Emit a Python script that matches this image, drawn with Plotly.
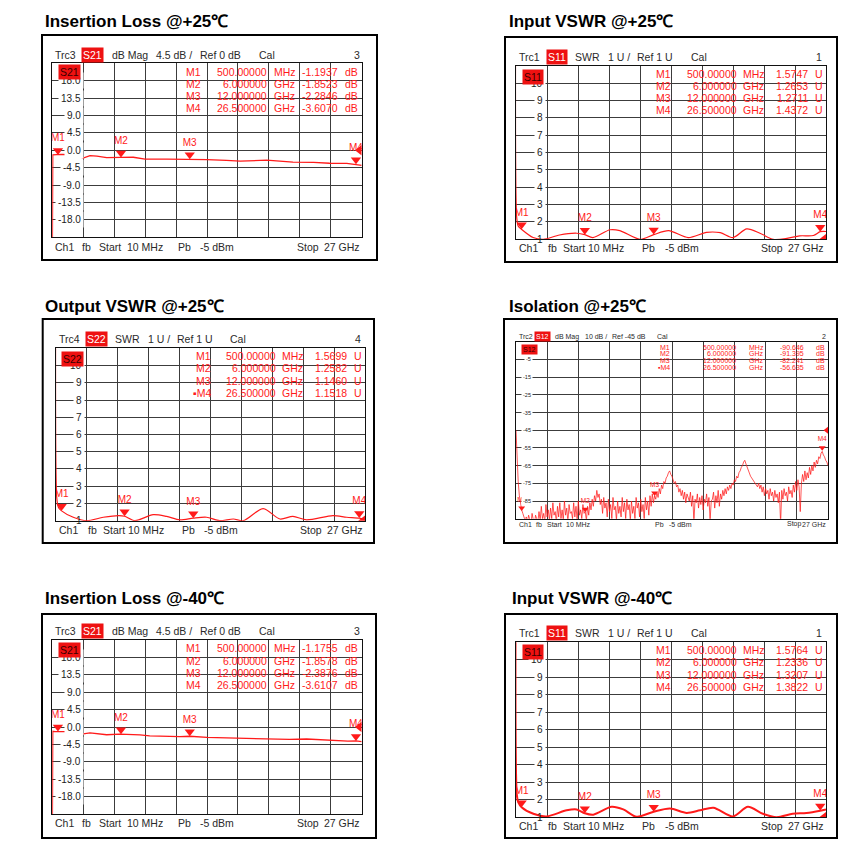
import numpy as np
import plotly.graph_objects as go

W = H = 868
FONT = "Liberation Sans, Arial, Helvetica, sans-serif"
RED = "#ff1a1a"
TXT = "#2a2a2a"
GRID = "#3c3c3c"

F_START, F_STOP, N_DIV = 0.01, 27.0, 10   # GHz sweep, 10 divisions

# ---------------- data (GHz, dB / SWR) ----------------
MK_F = [0.5, 6.0, 12.0, 26.5]

IL25_F = [0.01, 0.05, 0.39, 0.82, 1.84, 2.7, 3.3, 3.9, 4.75, 5.6, 6.0, 7.08, 8.1, 10.0,
          12.0, 13.5, 15.2, 16.4, 18.7, 19.9, 21.0, 22.8, 24.2, 25.7, 26.5, 27.0]
IL25_DB = [-30, -1.2, -1.1, -1.05, -1.15, -2.0, -1.4, -1.5, -1.9, -1.75, -1.85, -1.8, -2.3, -2.3,
           -2.28, -2.4, -2.6, -2.8, -2.55, -2.75, -3.05, -3.1, -3.35, -3.4, -3.6, -3.9]
IL25_MV = [-1.1937, -1.8523, -2.2846, -3.6070]

IL40_F = [0.01, 0.05, 0.24, 1.84, 2.57, 3.3, 4.75, 5.9, 7.66, 8.5, 11.15, 12.0, 13.5, 16.4,
          19.3, 20.7, 22.2, 24.2, 25.8, 26.5, 27.0]
IL40_DB = [-30, -1.1, -1.2, -1.2, -1.85, -1.5, -2.0, -1.85, -2.05, -2.3, -2.5, -2.39, -2.7, -2.9,
           -2.95, -3.2, -3.1, -3.5, -3.65, -3.61, -3.8]
IL40_MV = [-1.1755, -1.8578, -2.3876, -3.6107]

IN25_F = [0.01, 0.08, 0.21, 0.5, 1.5, 2.4, 3.8, 5.3, 6.0, 6.7, 8.2, 9.05, 10.8, 12.0, 13.3,
          15.0, 16.6, 17.8, 18.9, 20.1, 21.25, 22.4, 23.6, 24.7, 25.9, 26.5, 27.0]
IN25_V = [20, 2.2, 1.75, 1.57, 1.1, 1.0, 1.25, 1.35, 1.27, 1.1, 1.55, 1.5, 1.0, 1.27, 1.5,
          1.1, 1.4, 1.38, 1.1, 1.6, 1.35, 1.0, 1.05, 1.2, 1.22, 1.44, 1.45]
IN25_MV = [1.5747, 1.2653, 1.2711, 1.4372]

OUT25_F = [0.01, 0.08, 0.21, 0.5, 1.52, 2.69, 4.14, 5.5, 6.0, 6.9, 8.5, 9.67, 10.83, 12.0,
           13.16, 14.3, 15.5, 16.37, 18.1, 19.57, 20.7, 21.9, 24.2, 25.4, 26.5, 27.0]
OUT25_V = [20, 2.3, 1.8, 1.57, 1.2, 1.0, 1.2, 1.3, 1.26, 1.0, 1.35, 1.25, 1.05, 1.15,
           1.2, 1.0, 1.1, 1.0, 1.7, 1.1, 1.25, 1.05, 1.3, 1.2, 1.15, 1.05]
OUT25_MV = [1.5699, 1.2582, 1.1460, 1.1518]

IN40_F = [0.01, 0.08, 0.21, 0.5, 1.52, 2.68, 4.42, 5.29, 6.0, 6.74, 8.34, 9.35, 10.52, 12.0,
          13.42, 14.87, 16.03, 17.2, 18.9, 20.2, 21.5, 22.7, 24.1, 25.3, 26.5, 27.0]
IN40_V = [20, 2.3, 1.85, 1.58, 1.2, 1.05, 1.4, 1.45, 1.23, 1.15, 1.6, 1.45, 1.03, 1.32,
          1.5, 1.25, 1.4, 1.55, 1.05, 1.6, 1.2, 1.0, 1.2, 1.25, 1.38, 1.45]
IN40_MV = [1.5764, 1.2336, 1.3207, 1.3822]

ISO_DB = [
    -45, -62, -74, -82, -87, -90, -92, -95, -96, -94,
    -97, -93, -96, -98, -92, -96, -99, -93, -95, -97,
    -91, -96, -88, -95, -92, -97, -87, -94, -90, -96,
    -89, -95, -86, -93, -91, -97, -88, -94, -86, -95,
    -90, -96, -85, -93, -89, -97, -87, -92, -91, -95,
    -86, -94, -88, -96, -85, -93, -90, -95, -87, -92,
    -91, -96, -88, -93, -86, -90, -84, -88, -82, -85,
    -79, -83, -81, -87, -84, -92, -83, -89, -86, -94,
    -84, -91, -87, -95, -83, -90, -88, -96, -85, -92,
    -88, -94, -83, -91, -86, -95, -84, -90, -87, -96,
    -85, -92, -88, -95, -83, -89, -86, -94, -84, -91,
    -87, -95, -83, -90, -85, -93, -82, -88, -81, -86,
    -82, -84, -80, -83, -78, -81, -76, -78, -74, -75,
    -72, -71, -69, -68, -70, -71, -73, -75, -74, -77,
    -76, -80, -78, -82, -79, -84, -80, -86, -81, -83,
    -85, -80, -88, -82, -97, -84, -86, -81, -89, -83,
    -87, -82, -90, -84, -86, -81, -88, -83, -96, -85,
    -84, -80, -89, -82, -86, -79, -88, -81, -84, -79,
    -82, -78, -81, -77, -79, -76, -78, -75, -76, -73,
    -74, -71, -72, -69, -68, -66, -65, -63, -62, -64,
    -66, -68, -69, -71, -72, -73, -74, -75, -76, -77,
    -75, -78, -76, -80, -77, -82, -78, -81, -79, -84,
    -78, -82, -80, -85, -79, -83, -81, -86, -80, -98,
    -79, -84, -78, -82, -80, -85, -77, -81, -79, -83,
    -76, -80, -74, -79, -73, -77, -91, -75, -70, -74,
    -68, -73, -69, -72, -66, -70, -65, -68, -63, -66,
    -62, -64, -60, -61, -58, -57, -59, -60, -62, -63,
    -65,
]
ISO_F = [0.01] + [round(0.1 * k, 1) for k in range(1, len(ISO_DB))]
ISO_MV = [-90.646, -91.395, -82.241, -56.635]

IL_YT = [18.0, 13.5, 9.0, 4.5, 0.0, -4.5, -9.0, -13.5, -18.0]
SWR_YT = [10, 9, 8, 7, 6, 5, 4, 3, 2, 1]
ISO_YT = [-5, -15, -25, -35, -45, -55, -65, -75, -85]

# ---------------- per-type styling ----------------
KIND = {
    "il": dict(yr=(-22.5, 22.5), ref=0.0, yt=IL_YT, yl=[f"{v:.1f}" for v in IL_YT],
               ylx=0.1, yfs=10, unit="dB", vfmt="{:.4f}", fs=10.5, mfs=10, ms=9, tagx=0.056,
               hdr=[(0.002, "{trc}", "left"), (0.13, "TAG", "center"), (0.187, "dB Mag", "left"),
                    (0.329, "4.5 dB /", "left"), (0.471, "Ref 0 dB", "left"), (0.662, "Cal", "left"),
                    (1.0, "{num}", "right")],
               ftr=[(0.002, "Ch1", "left"), (0.09, "fb", "left"), (0.144, "Start", "left"),
                    (0.235, "10 MHz", "left"), (0.4, "Pb", "left"), (0.47, "-5 dBm", "left"),
                    (0.785, "Stop", "left"), (1.0, "27 GHz", "right")],
               cols=(0.488, 0.702, 0.709, 0.93, 0.94), rows=[8.4, 20.7, 33.0, 45.0], shape="linear"),
    "swr": dict(yr=(1, 11), ref=1.0, yt=SWR_YT, yl=[str(v) for v in SWR_YT],
                ylx=0.092, yfs=10, unit="U", vfmt="{:.4f}", fs=10.5, mfs=10, ms=9, tagx=0.055,
                hdr=[(0.004, "{trc}", "left"), (0.132, "TAG", "center"), (0.185, "SWR", "left"),
                     (0.29, "1 U /", "left"), (0.384, "Ref 1 U", "left"), (0.558, "Cal", "left"),
                     (0.995, "{num}", "right")],
                ftr=[(0.004, "Ch1", "left"), (0.097, "fb", "left"), (0.145, "Start", "left"),
                     (0.226, "10 MHz", "left"), (0.4, "Pb", "left"), (0.473, "-5 dBm", "left"),
                     (0.784, "Stop", "left"), (1.0, "27 GHz", "right")],
                cols=(0.507, 0.72, 0.726, 0.948, 0.958), rows=[7.8, 20.0, 32.3, 44.4], shape="spline"),
    "iso": dict(yr=(-95, 5), ref=-45.0, yt=ISO_YT, yl=[str(v) for v in ISO_YT],
                ylx=0.05, yfs=5.5, unit="dB", vfmt="{:.3f}", fs=7, mfs=6.5, ms=6, tagx=0.044,
                hdr=[(0.002, "{trc}", "left"), (0.084, "TAG", "center"), (0.119, "dB Mag", "left"),
                     (0.215, "10 dB /", "left"), (0.301, "Ref -45 dB", "left"), (0.446, "Cal", "left"),
                     (1.0, "{num}", "right")],
                ftr=[(0.002, "Ch1", "left"), (0.059, "fb", "left"), (0.093, "Start", "left"),
                     (0.155, "10 MHz", "left"), (0.438, "Pb", "left"), (0.483, "-5 dBm", "left"),
                     (0.862, "Stop", "left"), (1.0, "27 GHz", "right")],
                cols=(0.499, 0.71, 0.74, 0.93, 0.955), rows=[5.6, 12.3, 19.3, 26.3], shape="linear"),
}

PANELS = [
    dict(title="Insertion Loss @+25℃", tpos=(43.3, 21.5), box=(42, 35, 377, 260),
         grid=(52.3, 63.3, 361.7, 237.3), hy=55.0, fy=246.7, kind="il", trc="Trc3", par="S21",
         num="3", f=IL25_F, v=IL25_DB, mv=IL25_MV, lw=1.3, tagdy=9.2, active=None),
    dict(title="Input VSWR @+25℃", tpos=(507.3, 21.5), box=(505, 37, 837, 262),
         grid=(516, 66, 826, 239.3), hy=57.3, fy=248.3, kind="swr", trc="Trc1", par="S11",
         num="1", f=IN25_F, v=IN25_V, mv=IN25_MV, lw=1.2, tagdy=10.7, active=None),
    dict(title="Output VSWR @+25℃", tpos=(43.3, 306.0), box=(42.7, 319, 374, 543),
         grid=(56, 348.3, 365, 520.7), hy=339.3, fy=530.0, kind="swr", trc="Trc4", par="S22",
         num="4", f=OUT25_F, v=OUT25_V, mv=OUT25_MV, lw=1.2, tagdy=10.4, active=3),
    dict(title="Isolation @+25℃", tpos=(507.3, 306.0), box=(504, 319, 837, 543),
         grid=(516, 341.7, 828, 518.7), hy=336.7, fy=524.3, kind="iso", trc="Trc2", par="S12",
         num="2", f=ISO_F, v=ISO_DB, mv=ISO_MV, lw=0.9, tagdy=7.3, active=3),
    dict(title="Insertion Loss @-40℃", tpos=(43.3, 598.0), box=(42, 614, 376, 838),
         grid=(52.3, 640, 361.7, 814), hy=631.0, fy=823.3, kind="il", trc="Trc3", par="S21",
         num="3", f=IL40_F, v=IL40_DB, mv=IL40_MV, lw=1.3, tagdy=10.0, active=None),
    dict(title="Input VSWR @-40℃", tpos=(510.0, 598.0), box=(505, 614, 837, 838),
         grid=(516, 642.3, 826, 817.3), hy=633.3, fy=825.7, kind="swr", trc="Trc1", par="S11",
         num="1", f=IN40_F, v=IN40_V, mv=IN40_MV, lw=2.0, tagdy=9.7, active=None),
]


def px(x):
    return x / W


def py(y):
    return 1 - y / H


fig = go.Figure()
layout = dict(width=W, height=H, autosize=False, margin=dict(l=0, r=0, t=0, b=0),
              paper_bgcolor="white", plot_bgcolor="white", showlegend=False)
shapes, anns = [], []


def note(x, y, text, size, color=TXT, xanchor="left", yanchor="middle", xref="paper",
         yref="paper", **kw):
    anns.append(dict(x=x, y=y, xref=xref, yref=yref, text=text, showarrow=False,
                     font=dict(family=FONT, size=size, color=color),
                     xanchor=xanchor, yanchor=yanchor, **kw))


for i, p in enumerate(PANELS, start=1):
    k = KIND[p["kind"]]
    sfx = "" if i == 1 else str(i)
    xa, ya = "x" + sfx, "y" + sfx
    gl, gt, gr, gb = p["grid"]
    gw, gh = gr - gl, gb - gt
    y0, y1 = k["yr"]
    common = dict(showgrid=True, gridcolor=GRID, gridwidth=1, showline=True, mirror=True,
                  linecolor="#111111", linewidth=1, zeroline=False, ticks="",
                  showticklabels=False, fixedrange=True)
    layout["xaxis" + sfx] = dict(domain=[px(gl), px(gr)], range=[F_START, F_STOP],
                                 tickvals=list(np.linspace(F_START, F_STOP, N_DIV + 1)),
                                 anchor=ya, **common)
    layout["yaxis" + sfx] = dict(domain=[py(gb), py(gt)], range=[y0, y1],
                                 tickvals=list(np.linspace(y0, y1, N_DIV + 1)),
                                 anchor=xa, **common)

    bl, bt, br, bb = p["box"]
    shapes.append(dict(type="rect", xref="paper", yref="paper", x0=px(bl), x1=px(br),
                       y0=py(bb), y1=py(bt), line=dict(color="black", width=2),
                       fillcolor="white", layer="below"))

    # trace
    line = dict(width=p["lw"], shape=k["shape"])
    if k["shape"] == "spline":
        line["smoothing"] = 0.8
    line["color"] = "rgba(255,20,20,0.8)" if p["kind"] == "iso" else RED
    fig.add_trace(go.Scatter(x=p["f"], y=p["v"], mode="lines", line=line, xaxis=xa, yaxis=ya,
                             hoverinfo="skip", cliponaxis=True))

    # markers (triangle tip on the trace value)
    ppu = gh / (y1 - y0)
    off = (k["ms"] / 2) / ppu
    fig.add_trace(go.Scatter(x=MK_F, y=[v + off for v in p["mv"]], mode="markers+text",
                             marker=dict(symbol="triangle-down", size=k["ms"], color=RED),
                             text=[f"M{j + 1}" for j in range(len(MK_F))],
                             textposition="top center",
                             textfont=dict(family=FONT, size=k["mfs"], color=RED),
                             xaxis=xa, yaxis=ya, hoverinfo="skip", cliponaxis=True))
    # reference level arrow on right edge
    xppu = gw / (F_STOP - F_START)
    offx = (k["ms"] / 4) / xppu
    fig.add_trace(go.Scatter(x=[F_STOP - offx], y=[k["ref"]], mode="markers",
                             marker=dict(symbol="triangle-left", size=k["ms"], color=RED),
                             xaxis=xa, yaxis=ya, hoverinfo="skip", cliponaxis=True))

    # title
    note(px(p["tpos"][0]), py(p["tpos"][1]), f"<b>{p['title']}</b>", 17, color="black")

    # header
    for rel, txt, anc in k["hdr"]:
        x = px(gl + rel * gw)
        if txt == "TAG":
            note(x, py(p["hy"]), p["par"], k["fs"], color="white", xanchor="center",
                 bgcolor="#ee1111", borderpad=1)
        else:
            note(x, py(p["hy"]), txt.format(trc=p["trc"], num=p["num"]), k["fs"], xanchor=anc)
    # footer
    for rel, txt, anc in k["ftr"]:
        note(px(gl + rel * gw), py(p["fy"]), txt, k["fs"], xanchor=anc)

    # y tick labels (inside the first column)
    for v, lab in zip(k["yt"], k["yl"]):
        edge = abs(v - y0) < 1e-9
        note(px(gl + k["ylx"] * gw + 1), v, lab, k["yfs"], color="#222222", xanchor="right",
             yref=ya, bgcolor="rgba(0,0,0,0)" if edge else "white",
             borderpad=2 if p["kind"] != "iso" else 1)

    # trace tag inside grid
    note(px(gl + k["tagx"] * gw), py(gt + p["tagdy"]), p["par"], k["fs"], color="#3a0000",
         xanchor="center", bgcolor="#ee1111", borderpad=1)

    # marker table
    c_name, c_fr, c_fu, c_v, c_vu = k["cols"]
    for j, (f, v) in enumerate(zip(MK_F, p["mv"])):
        y = py(gt + k["rows"][j])
        name = ("▪" if p["active"] == j else "") + f"M{j + 1}"
        if f < 1:
            ftxt, funit = f"{f * 1000:.5f}", "MHz"
        else:
            ftxt, funit = f"{f:.6f}", "GHz"
        note(px(gl + c_name * gw), y, name, k["fs"], color=RED, xanchor="right")
        note(px(gl + c_fr * gw), y, ftxt, k["fs"], color=RED, xanchor="right")
        note(px(gl + c_fu * gw), y, funit, k["fs"], color=RED, xanchor="left")
        note(px(gl + c_v * gw), y, k["vfmt"].format(v), k["fs"], color=RED, xanchor="right")
        note(px(gl + c_vu * gw), y, k["unit"], k["fs"], color=RED, xanchor="left")

layout["shapes"] = shapes
layout["annotations"] = anns
fig.update_layout(**layout)
fig.write_html("out.html", config={"displayModeBar": False},
               post_script="document.body.style.margin='0px';document.body.style.overflow='hidden';")
